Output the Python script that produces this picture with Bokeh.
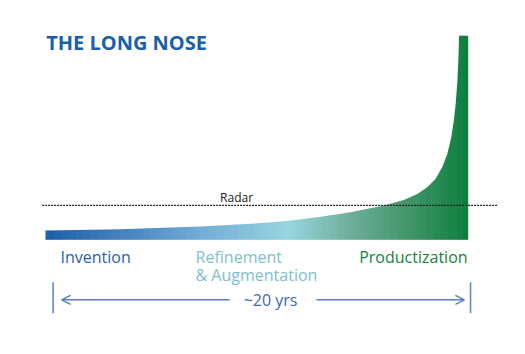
import numpy as np
from bokeh.plotting import figure
from bokeh.models import Arrow, OpenHead
from bokeh.core.properties import value
from bokeh.embed import file_html
from bokeh.resources import INLINE

# ---- data ----
years = [0, 3.55, 7.33, 9.70, 11.28, 12.86, 14.43, 16.01, 16.95, 17.59, 18.06, 18.45,
         18.77, 19.01, 19.20, 19.32, 19.41, 19.49, 19.54, 19.57, 20.0]
adoption = [4.55, 5.19, 6.51, 7.83, 9.10, 11.06, 13.51, 16.79, 19.48, 22.46, 25.70, 29.81,
            35.49, 42.05, 50.22, 58.40, 66.54, 78.02, 89.43, 100, 100]
radar_level = 16.9
span_years = 20
title = "THE LONG NOSE"
phase_labels = ["Invention", "Refinement", "& Augmentation", "Productization"]
span_label = "~20 yrs"

# gradient stops (position in years, colour)
grad_pos = [0, 4.0, 7.2, 11.5, 14.4, 17.6, 20]
grad_col = ["#1b5fa9", "#4a86c2", "#72abd6", "#96d6e0", "#6fae9a", "#3a9262", "#0d7e3e"]

def hex2rgb(h):
    return np.array([int(h[i:i + 2], 16) for i in (1, 3, 5)], dtype=float)

rgbs = np.array([hex2rgb(c) for c in grad_col])

p = figure(width=525, height=354, x_range=(-2.129, 22.711), y_range=(-56.14, 117.13),
           output_backend="svg", toolbar_location=None, min_border=0)
p.axis.visible = False
p.grid.visible = False
p.outline_line_color = None
p.background_fill_color = "white"
p.border_fill_color = "white"

# gradient strips under the curve
n = 240
edges = np.linspace(0, span_years, n + 1)
mids = (edges[:-1] + edges[1:]) / 2
cols = []
for m in mids:
    r = np.interp(m, grad_pos, rgbs[:, 0])
    g = np.interp(m, grad_pos, rgbs[:, 1])
    b = np.interp(m, grad_pos, rgbs[:, 2])
    cols.append("#%02x%02x%02x" % (int(r), int(g), int(b)))
right = np.minimum(edges[1:] + 0.03, span_years)
p.quad(left=edges[:-1], right=right, bottom=0, top=max(adoption), fill_color=cols, line_color=None)

# white mask above the curve
top = max(adoption) + 5
mask_x = [years[0] - 0.2] + list(years) + [years[-1] + 0.2, years[-1] + 0.2, years[0] - 0.2]
mask_y = [adoption[0]] + list(adoption) + [adoption[-1], top, top]
p.patch(mask_x, mask_y, fill_color="white", line_color=None)

# radar line
p.line([-0.16, 21.37], [radar_level, radar_level], line_color="#222222", line_width=1.3, line_dash="2 1")
p.text(x=[9.04], y=[20.95], text=["Radar"], text_font=value("Open Sans"),
       text_font_size="12px", text_color="#222222", text_align="center", text_baseline="middle")

# title
p.text(x=[0.03], y=[96.33], text=[title], text_font=value("Open Sans"), text_font_style="bold",
       text_font_size="20px", text_color="#1a5fab", text_baseline="middle")

# phase labels
p.text(x=[0.71], y=[-8.32], text=[phase_labels[0]], text_font=value("Open Sans"),
       text_font_size="16px", text_color="#2a62ac", text_baseline="middle")
p.text(x=[7.10, 7.10], y=[-8.32, -17.23], text=phase_labels[1:3], text_font=value("Open Sans"),
       text_font_size="16px", text_color="#7dbfcc", text_baseline="middle")
p.text(x=[19.97], y=[-8.32], text=[phase_labels[3]], text_font=value("Open Sans"),
       text_font_size="16px", text_color="#1a8040", text_align="right", text_baseline="middle")

# span arrow
arrow_col = "#5a7cc0"
p.segment(x0=[0.36, 20.11], y0=[-20.75, -20.75], x1=[0.36, 20.11], y1=[-35.93, -35.93],
          line_color="#6a86c6", line_width=1.6)
p.add_layout(Arrow(end=OpenHead(size=9, line_color=arrow_col, line_width=1.5),
                   x_start=8.71, y_start=-29.37, x_end=0.76, y_end=-29.37,
                   line_color=arrow_col, line_width=1.5))
p.add_layout(Arrow(end=OpenHead(size=9, line_color=arrow_col, line_width=1.5),
                   x_start=12.82, y_start=-29.37, x_end=19.82, y_end=-29.37,
                   line_color=arrow_col, line_width=1.5))
p.text(x=[10.65], y=[-29.47], text=[span_label], text_font=value("Open Sans"),
       text_font_size="16px", text_color="#3f66b0", text_align="center", text_baseline="middle")

open("out.html", "w").write(file_html(p, INLINE))
